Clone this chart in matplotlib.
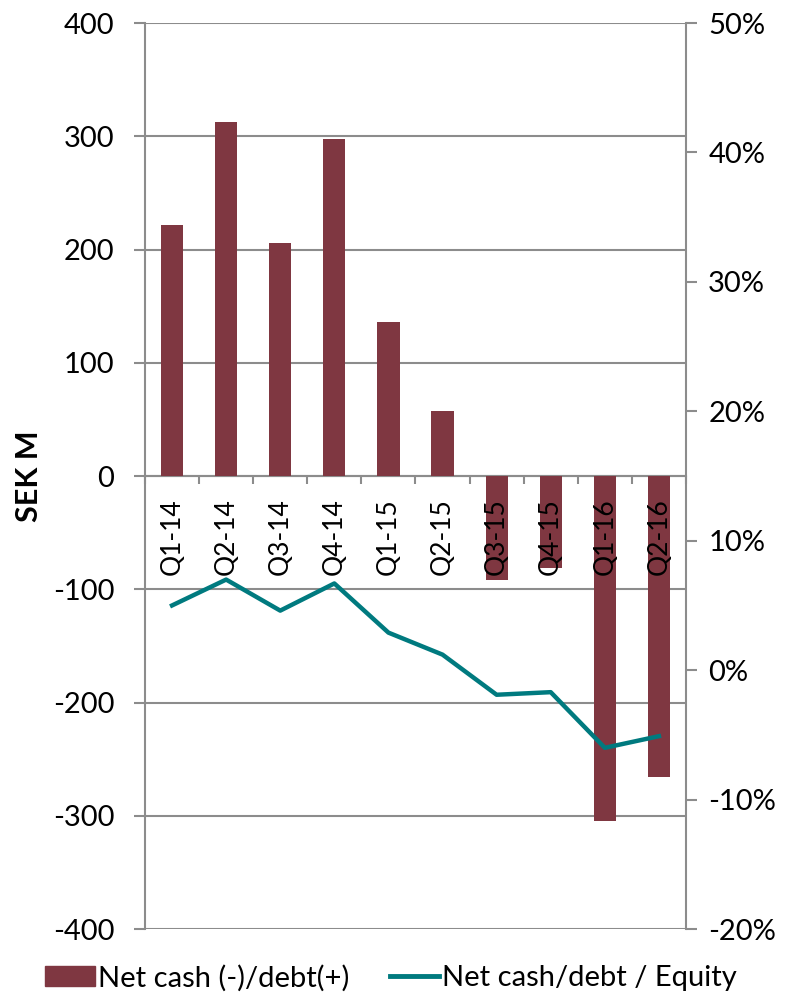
import numpy as np
from matplotlib import pyplot as plt
from matplotlib.lines import Line2D
from matplotlib.patches import Patch

plt.rcParams['font.family'] = ['Lato', 'DejaVu Sans']
plt.rcParams['axes.unicode_minus'] = False

quarters = ["Q1-14", "Q2-14", "Q3-14", "Q4-14", "Q1-15",
            "Q2-15", "Q3-15", "Q4-15", "Q1-16", "Q2-16"]
net_cash = [222, 313, 206, 298, 136, 57, -92, -81, -305, -266]
ratio_pct = [5.0, 7.0, 4.6, 6.7, 2.9, 1.2, -1.9, -1.7, -6.0, -5.1]

barColor = "#7F3741"
lineColor = "#007A7F"
gridColor = "#8C8C8C"

fig = plt.figure(figsize=(7.98, 10.05), dpi=100)
ax = fig.add_axes([0.1817, 0.0756, 0.6779, 0.9015])
x = np.arange(len(quarters))

ax.bar(x, net_cash, width=0.41, color=barColor, zorder=3)
ax.set_xlim(-0.5, len(quarters) - 0.5)
ax.set_ylim(-400, 400)
ax.set_yticks(np.arange(-400, 401, 100))
ax.yaxis.grid(True, color=gridColor, linewidth=1.5, zorder=0)
ax.tick_params(axis='y', length=8, width=1.5, color=gridColor, labelsize=21, pad=14)
ax.set_ylabel("SEK M", fontsize=22, fontweight='bold', labelpad=7)

# category axis sits on the zero line, labels drawn over the bars
ax.spines['bottom'].set_position(('data', 0))
ax.spines['bottom'].set_color(gridColor)
ax.spines['bottom'].set_linewidth(1.5)
ax.spines['top'].set_visible(False)
ax.spines['left'].set_color(gridColor)
ax.spines['left'].set_linewidth(1.5)
ax.spines['right'].set_visible(False)
ax.set_xticks(x)
ax.set_xticklabels(quarters, rotation=90, fontsize=19)
ax.tick_params(axis='x', which='major', length=0, pad=16)
ax.set_xticks(np.arange(-0.5, len(quarters)), minor=True)
ax.tick_params(axis='x', which='minor', length=6, width=1.5, color=gridColor, direction='out')
ax.xaxis.set_zorder(4)

ax2 = ax.twinx()
ax2.plot(x, ratio_pct, color=lineColor, linewidth=3.2, zorder=4)
ax2.set_ylim(-20, 50)
ax2.set_yticks(np.arange(-20, 51, 10))
ax2.set_yticklabels([f"{v}%" for v in range(-20, 51, 10)])
ax2.tick_params(axis='y', length=8, width=1.5, color=gridColor, labelsize=21, pad=8)
for s in ['top', 'left', 'bottom']:
    ax2.spines[s].set_visible(False)
ax2.spines['right'].set_color(gridColor)
ax2.spines['right'].set_linewidth(1.5)

handles = [Patch(color=barColor, label="Net cash (-)/debt(+)"),
           Line2D([0], [0], color=lineColor, linewidth=3.5, label="Net cash/debt / Equity")]
fig.legend(handles=handles, loc='center', bbox_to_anchor=(0.49, 0.027), ncol=2,
           frameon=False, fontsize=21, handlelength=1.7, handletextpad=0.1,
           columnspacing=1.4)

fig.savefig("out.png", dpi=100)
